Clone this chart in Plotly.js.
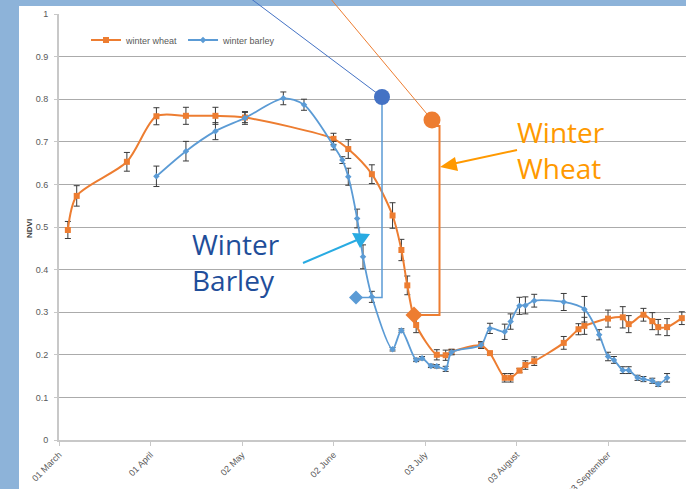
<!DOCTYPE html>
<html>
<head>
<meta charset="utf-8">
<script src="https://cdn.plot.ly/plotly-3.0.1.min.js"></script>
<style>
  body { margin: 0; padding: 0; }
  #plot { width: 686px; height: 489px; }
</style>
</head>
<body>
<div id="plot"></div>
<script>
// winter wheat NDVI (date, mean, error)
var wheatDates = ["2015-03-04","2015-03-07","2015-03-24","2015-04-03","2015-04-13","2015-04-23","2015-05-03",
  "2015-06-02","2015-06-07","2015-06-15","2015-06-22","2015-06-25","2015-06-27","2015-06-30",
  "2015-07-07","2015-07-10","2015-07-12","2015-07-22","2015-07-25","2015-07-30","2015-08-01",
  "2015-08-04","2015-08-06","2015-08-09","2015-08-19","2015-08-24","2015-08-26","2015-09-03",
  "2015-09-08","2015-09-10","2015-09-15","2015-09-18","2015-09-20","2015-09-23","2015-09-28"];
var wheatNdvi = [0.493,0.573,0.653,0.760,0.761,0.761,0.757,
  0.707,0.683,0.624,0.527,0.446,0.363,0.270,
  0.200,0.199,0.207,0.222,0.204,0.146,0.146,
  0.163,0.176,0.185,0.228,0.260,0.268,0.285,
  0.288,0.272,0.294,0.279,0.265,0.265,0.286];
var wheatErr = [0.02,0.024,0.022,0.02,0.02,0.02,0.012,
  0.013,0.022,0.022,0.03,0.025,0.022,0.018,
  0.012,0.012,0.006,0.006,0.003,0.01,0.01,
  0.005,0.01,0.01,0.015,0.013,0.02,0.02,
  0.025,0.02,0.015,0.02,0.018,0.02,0.015];

// winter barley NDVI
var barleyDates = ["2015-04-03","2015-04-13","2015-04-23","2015-05-03","2015-05-16","2015-05-23",
  "2015-06-02","2015-06-05","2015-06-07","2015-06-10","2015-06-12","2015-06-15","2015-06-22",
  "2015-06-25","2015-06-30","2015-07-02","2015-07-05","2015-07-07","2015-07-10","2015-07-12",
  "2015-07-22","2015-07-25","2015-07-30","2015-08-01","2015-08-04","2015-08-06","2015-08-09",
  "2015-08-19","2015-08-26","2015-08-31","2015-09-03","2015-09-05","2015-09-08","2015-09-10",
  "2015-09-13","2015-09-15","2015-09-18","2015-09-20","2015-09-23"];
var barleyNdvi = [0.619,0.678,0.725,0.756,0.802,0.787,
  0.691,0.657,0.618,0.520,0.430,0.336,0.213,
  0.257,0.188,0.192,0.174,0.173,0.167,0.206,
  0.223,0.262,0.254,0.278,0.315,0.316,0.327,
  0.324,0.307,0.247,0.196,0.188,0.164,0.164,
  0.146,0.143,0.139,0.131,0.146];
var barleyErr = [0.024,0.023,0.02,0.015,0.015,0.013,
  0.01,0.008,0.02,0.022,0.028,0.013,0.004,
  0.004,0.004,0.004,0.004,0.004,0.006,0.006,
  0.008,0.012,0.018,0.018,0.02,0.02,0.015,
  0.02,0.03,0.012,0.01,0.008,0.008,0.008,
  0.006,0.006,0.006,0.005,0.01];

var tickDates = ["2015-03-01","2015-04-01","2015-05-02","2015-06-02","2015-07-03","2015-08-03","2015-09-03"];
var tickLabels = ["01 March","01 April","02 May","02 June","03 July","03 August","03 September"];
var yTicks = [0,0.1,0.2,0.3,0.4,0.5,0.6,0.7,0.8,0.9,1];
var yLabels = ["0","0.1","0.2","0.3","0.4","0.5","0.6","0.7","0.8","0.9","1"];

var errStyle = {type: "data", visible: true, color: "#3a3a3a", thickness: 1, width: 3};

var trace1 = {
  x: wheatDates, y: wheatNdvi, name: "winter wheat",
  type: "scatter", mode: "lines+markers",
  line: {color: "#ED7D31", width: 2, shape: "spline", smoothing: 0.8},
  marker: {symbol: "square", size: 6, color: "#ED7D31"},
  error_y: Object.assign({array: wheatErr}, errStyle)
};
var trace2 = {
  x: barleyDates, y: barleyNdvi, name: "winter barley",
  type: "scatter", mode: "lines+markers",
  line: {color: "#5B9BD5", width: 1.8, shape: "spline", smoothing: 0.8},
  marker: {symbol: "diamond", size: 5, color: "#5B9BD5"},
  error_y: Object.assign({array: barleyErr}, errStyle)
};

// plot area in pixels: x 59..686, y 14..440
function px(x) { return (x - 59) / 627; }
function py(y) { return (440 - y) / 426; }
function P(pts) {
  return "M" + pts.map(function (p) { return px(p[0]) + "," + py(p[1]); }).join(" L") + " Z";
}
function L(pts) {
  return "M" + pts.map(function (p) { return px(p[0]) + "," + py(p[1]); }).join(" L");
}
function dot(cx, cy, r, col) {
  return {type: "circle", xref: "paper", yref: "paper", x0: px(cx - r), x1: px(cx + r),
    y0: py(cy + r), y1: py(cy - r), fillcolor: col, line: {width: 0}};
}
function diamond(cx, cy, r, col) {
  return {type: "path", xref: "paper", yref: "paper",
    path: P([[cx - r, cy], [cx, cy - r], [cx + r, cy], [cx, cy + r]]), fillcolor: col, line: {width: 0}};
}

var shapes = [
  // white slide area over the blue background
  {type: "rect", xref: "paper", yref: "paper", layer: "below", x0: px(19), x1: px(700), y0: py(500), y1: py(6),
    fillcolor: "white", line: {width: 0}},
  // barley callout
  {type: "path", xref: "paper", yref: "paper", path: L([[250, -2], [382, 97]]), line: {color: "#4472C4", width: 1}},
  {type: "path", xref: "paper", yref: "paper", path: L([[382, 97], [382, 297.5], [357, 297.5]]), line: {color: "#5B9BD5", width: 1.5}},
  dot(382, 97, 8, "#4472C4"),
  diamond(356, 297.5, 7, "#5B9BD5"),
  // wheat callout
  {type: "path", xref: "paper", yref: "paper", path: L([[330, -2], [432, 120]]), line: {color: "#ED7D31", width: 1}},
  {type: "path", xref: "paper", yref: "paper", path: L([[433, 126], [439.5, 126], [439.5, 315], [414, 315]]), line: {color: "#ED7D31", width: 2}},
  dot(432, 120, 8.5, "#ED7D31"),
  diamond(414, 315, 8.5, "#ED7D31"),
  // orange arrow to wheat line
  {type: "path", xref: "paper", yref: "paper", path: L([[517, 150], [452, 164]]), line: {color: "#FF9900", width: 2}},
  {type: "path", xref: "paper", yref: "paper", path: P([[440, 167], [455, 157], [458, 171]]), fillcolor: "#FF9900", line: {width: 0}},
  // cyan arrow to barley line
  {type: "path", xref: "paper", yref: "paper", path: L([[303, 263], [357, 240]]), line: {color: "#29ABE2", width: 2}},
  {type: "path", xref: "paper", yref: "paper", path: P([[352, 233], [370, 234], [360, 248]]), fillcolor: "#29ABE2", line: {width: 0}}
];

var annotations = [
  {xref: "paper", yref: "paper", x: px(515), y: py(111), xanchor: "left", yanchor: "top", align: "left",
    showarrow: false, text: "Winter<br>Wheat", font: {family: "Open Sans", size: 28, color: "#FF9900"}},
  {xref: "paper", yref: "paper", x: px(190), y: py(223), xanchor: "left", yanchor: "top", align: "left",
    showarrow: false, text: "Winter<br>Barley", font: {family: "Open Sans", size: 28, color: "#1F4E9A"}},
  {xref: "paper", yref: "paper", x: px(30), y: py(228), xanchor: "center", yanchor: "middle", textangle: -90,
    showarrow: false, text: "<b>NDVI</b>", font: {family: "Liberation Sans", size: 8, color: "#404040"}}
];

var layout = {
  width: 686, height: 489,
  margin: {l: 59, r: 0, t: 14, b: 49},
  paper_bgcolor: "#8DB3D9",
  plot_bgcolor: "rgba(0,0,0,0)",
  font: {family: "Liberation Sans", size: 9, color: "#595959"},
  showlegend: true,
  legend: {orientation: "h", x: px(86), y: py(40), xanchor: "left", yanchor: "middle",
    bgcolor: "rgba(0,0,0,0)", font: {size: 9, color: "#595959"}, itemwidth: 30, tracegroupgap: 0},
  xaxis: {
    type: "date", range: ["2015-03-01", "2015-09-29 10:00"],
    tickvals: tickDates, ticktext: tickLabels, tickangle: -45,
    showgrid: false, zeroline: false,
    showline: true, linecolor: "#c8c8c8", linewidth: 2,
    ticks: "outside", ticklen: 4, tickcolor: "#c8c8c8",
    fixedrange: true
  },
  yaxis: {
    range: [0, 1], tickvals: yTicks, ticktext: yLabels,
    showgrid: true, gridcolor: "#ababab", gridwidth: 1, zeroline: false,
    showline: true, linecolor: "#c8c8c8", linewidth: 2,
    ticks: "outside", ticklen: 3, tickcolor: "#c8c8c8", ticklabelstandoff: 4,
    fixedrange: true
  },
  shapes: shapes,
  annotations: annotations
};

Plotly.newPlot("plot", [trace1, trace2], layout, {displayModeBar: false, staticPlot: true});
</script>
</body>
</html>
